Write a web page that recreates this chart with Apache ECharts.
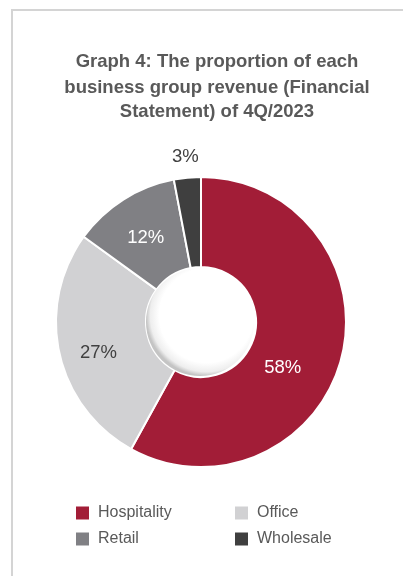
<!DOCTYPE html>
<html><head><meta charset="utf-8">
<script src="https://cdn.jsdelivr.net/npm/echarts@6/dist/echarts.min.js"></script>
<style>html,body{margin:0;padding:0;background:#fff}#c{width:403px;height:576px}</style>
</head><body><div id="c"></div>
<script>
const titleLines = ["Graph 4: The proportion of each", "business group revenue (Financial", "Statement) of 4Q/2023"];
const categories = ["Hospitality", "Office", "Retail", "Wholesale"];
const values = [58, 27, 12, 3];
const colors = ["#A21D37", "#D1D1D3", "#808084", "#3F3F3F"];
const labelColors = ["#ffffff", "#404040", "#ffffff", "#404040"];
const labelShift = [[-18, 20], [-2, 8], [0, 3], [-6, -63]];

const chart = echarts.init(document.getElementById('c'), null, {renderer: 'canvas'});
const font = 'Liberation Sans, Arial, sans-serif';
const titleY = [62, 87.5, 112];
const C = [201, 322], R0 = 55, R = 145;
const legendBase = {orient: 'vertical', top: 505, padding: 0, itemWidth: 13, itemHeight: 13, itemGap: 10, icon: 'rect', selectedMode: false,
  itemStyle: {borderWidth: 0}, textStyle: {fontSize: 16, lineHeight: 13, color: '#595959', fontFamily: font, padding: [0, 0, 0, 4]}};
chart.setOption({
  animation: false,
  graphic: [
    {type: 'rect', shape: {x: 12, y: 10, width: 600, height: 800}, style: {fill: 'none', stroke: '#D4D4D4', lineWidth: 2}, silent: true},
    ...titleLines.map((t, i) => ({type: 'text', x: 217, y: titleY[i], style: {text: t, fill: '#595959', font: 'bold 18.5px ' + font, textAlign: 'center', textVerticalAlign: 'middle'}})),
    {type: 'circle', z: 100, silent: true, shape: {cx: C[0] - 1, cy: C[1], r: R0 - 1},
     style: {fill: {type: 'radial', x: 0.56, y: 0.44, r: 0.56, colorStops: [{offset: 0, color: '#ffffff'}, {offset: 0.78, color: '#ffffff'}, {offset: 0.93, color: '#eeeeee'}, {offset: 1, color: '#c4c4c4'}]}}}
  ],
  legend: [
    Object.assign({}, legendBase, {left: 76, data: [categories[0], categories[2]]}),
    Object.assign({}, legendBase, {left: 235, data: [categories[1], categories[3]]})
  ],
  series: [{
    type: 'pie',
    center: C,
    radius: [R0, R],
    startAngle: 90,
    clockwise: true,
    itemStyle: {borderColor: '#ffffff', borderWidth: 2},
    label: {show: true, position: 'inside', formatter: '{c}%', fontSize: 18.5, fontFamily: font},
    labelLine: {show: false},
    labelLayout: function (p) { const s = labelShift[p.dataIndex]; return {dx: s[0], dy: s[1]}; },
    emphasis: {disabled: true},
    data: categories.map((n, i) => ({name: n, value: values[i], itemStyle: {color: colors[i]}, label: {color: labelColors[i]}}))
  }]
});
</script></body></html>
